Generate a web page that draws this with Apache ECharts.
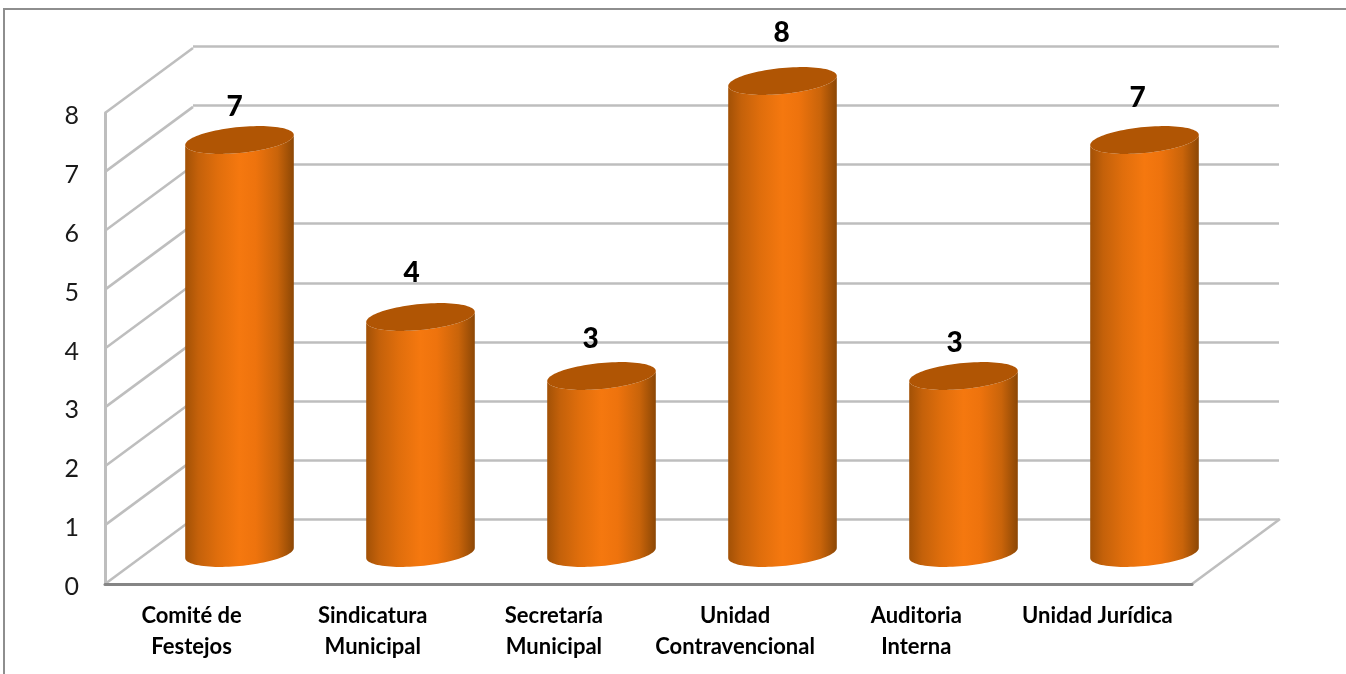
<!DOCTYPE html>
<html>
<head>
<meta charset="utf-8">
<style>html,body{margin:0;padding:0;background:#fff}#c{width:1346px;height:674px}</style>
<script src="https://cdn.jsdelivr.net/npm/echarts@6/dist/echarts.min.js"></script>
</head>
<body>
<div id="c"></div>
<script>
const categories = ['Comité de\nFestejos','Sindicatura\nMunicipal','Secretaría\nMunicipal','Unidad\nContravencional','Auditoria\nInterna','Unidad Jurídica'];
const values = [7,4,3,8,3,7];
const wallLevels = [0,1,2,3,4,5,6,7,8];
// hand-placed nudges of the value labels, as in the reference [dx, dy]
const labelNudges = [[-5,-34],[-9,-45],[-11,-38],[-1,-49],[-9,-34],[-7,-43]];

const W = 1346, H = 674;
const front = {left:105, right:154, top:113, bottom:90};
const back  = {left:193, right:67,  top:46.5, bottom:155};
const mid   = {left:149, right:111, top:81,  bottom:121};
const depthX = back.left - front.left;
const depthY = (H - front.bottom) - (H - back.bottom);
const FONT = 'Lato';
const WALL = '#bebebe';

const chart = echarts.init(document.getElementById('c'), null, {renderer:'canvas'});

function ellipsePts(cx, cy, a, b, slope, from, to, n){
  const pts = [];
  for (let i = 0; i <= n; i++){
    const t = from + (to - from) * i / n;
    const x = a * Math.cos(t);
    pts.push([cx + x, cy + b * Math.sin(t) + slope * x]);
  }
  return pts;
}

chart.setOption({
  animation:false,
  backgroundColor:'#fff',
  graphic:[{type:'polyline',silent:true,z:0,shape:{points:[[4,H],[4,9],[W,9]]},style:{stroke:'#8e8e8e',lineWidth:2,fill:null}}],
  grid:[
    {left:front.left,right:front.right,top:front.top,bottom:front.bottom},
    {left:back.left,right:back.right,top:back.top,bottom:back.bottom},
    {left:mid.left,right:mid.right,top:mid.top,bottom:mid.bottom}
  ],
  xAxis:[
    {type:'category',gridIndex:0,data:categories,z:5,
     axisLine:{show:true,lineStyle:{color:'#858585',width:3}},axisTick:{show:false},
     axisLabel:{interval:0,color:'#000',fontFamily:FONT,fontWeight:'bold',fontSize:22,lineHeight:31,margin:16,padding:[0,8,0,0]}},
    {type:'category',gridIndex:1,data:categories,show:false},
    {type:'category',gridIndex:2,data:categories,show:false}
  ],
  yAxis:[
    {type:'value',gridIndex:0,min:0,max:8,interval:1,
     axisLine:{show:true,lineStyle:{color:WALL,width:3}},axisTick:{show:false},splitLine:{show:false},
     axisLabel:{color:'#1a1a1a',fontFamily:FONT,fontSize:25,margin:26,verticalAlign:'top',lineHeight:6}},
    {type:'value',gridIndex:1,min:0,max:8,interval:1,
     axisLine:{show:false},axisTick:{show:false},axisLabel:{show:false},
     splitLine:{show:true,lineStyle:{color:WALL,width:2.5}}},
    {type:'value',gridIndex:2,min:0,max:8,interval:1,show:false}
  ],
  series:[
    { // side-wall diagonals
      type:'custom',xAxisIndex:0,yAxisIndex:0,z:1,silent:true,clip:false,
      data:wallLevels,
      encode:{y:0},
      renderItem(params,api){
        const y = api.coord([0,api.value(0)])[1];
        const x = params.coordSys.x;
        return {type:'line',shape:{x1:x,y1:y,x2:x+depthX,y2:y-depthY},style:{stroke:WALL,lineWidth:2.5}};
      }
    },
    { // floor right edge
      type:'custom',xAxisIndex:0,yAxisIndex:0,z:1,silent:true,clip:false,
      data:[0],
      encode:{y:0},
      renderItem(params,api){
        const y = api.coord([0,api.value(0)])[1];
        const x = params.coordSys.x + params.coordSys.width;
        return {type:'line',shape:{x1:x,y1:y,x2:x+depthX,y2:y-depthY},style:{stroke:WALL,lineWidth:2.5}};
      }
    },
    { // cylinders
      type:'custom',xAxisIndex:2,yAxisIndex:2,z:3,clip:false,
      data:values.map((v,i)=>[i,v]),
      encode:{x:0,y:1},
      renderItem(params,api){
        const i = api.value(0), v = api.value(1);
        const top = api.coord([i,v]), base = api.coord([i,0]);
        const a = api.size([1,0])[0] * 0.3, b = 13, slope = -5/54;
        const cx = top[0];
        const body = ellipsePts(cx,base[1],a,b,slope,Math.PI,0,48)
          .concat(ellipsePts(cx,top[1],a,b,slope,0,Math.PI,48));
        const lid = ellipsePts(cx,top[1],a,b,slope,0,2*Math.PI,96);
        const n = labelNudges[i];
        return {type:'group',children:[
          {type:'polygon',shape:{points:body},style:{fill:new echarts.graphic.LinearGradient(0,0,1,0,[
            {offset:0,color:'#a25106'},{offset:0.12,color:'#c4610a'},{offset:0.3,color:'#e06e0c'},
            {offset:0.5,color:'#f5780f'},{offset:0.65,color:'#ee730d'},{offset:0.85,color:'#c9640a'},{offset:1,color:'#8c4705'}
          ])}},
          {type:'polygon',shape:{points:lid},style:{fill:'#b05504'}},
          {type:'text',x:cx+n[0],y:top[1]+n[1]+1,style:{text:String(v),fill:'#000',font:'900 28px '+FONT,align:'center',verticalAlign:'middle'}}
        ]};
      }
    }
  ]
});
</script>
</body>
</html>
